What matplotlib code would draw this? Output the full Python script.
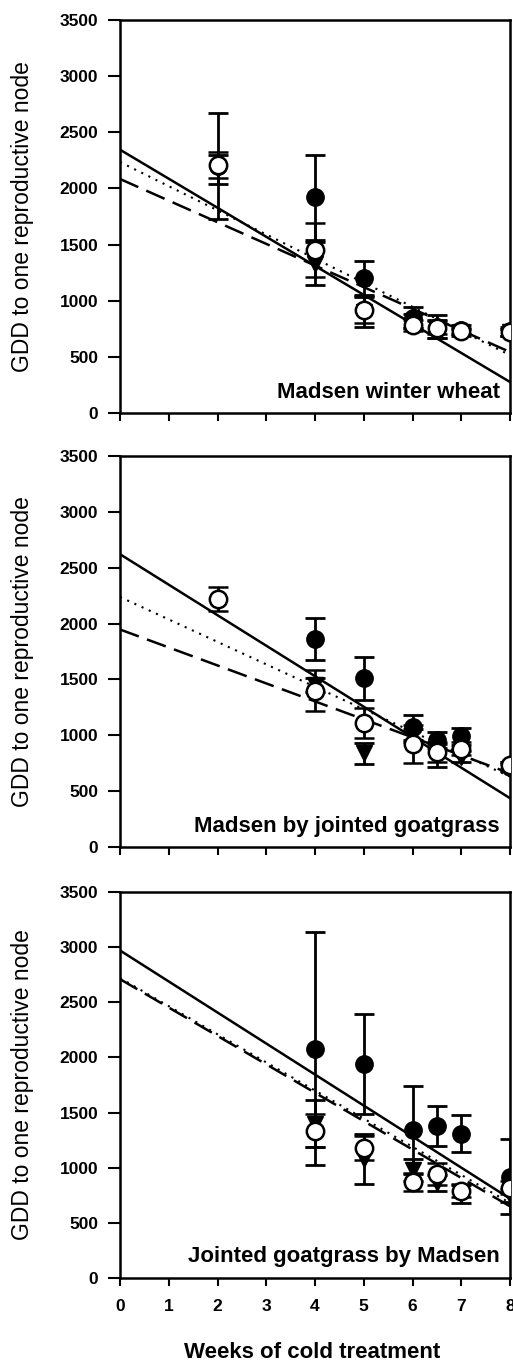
import numpy as np
import matplotlib
matplotlib.use("Agg")
import matplotlib.pyplot as plt

plt.rcParams['font.family'] = ['Liberation Sans', 'DejaVu Sans']

# Weeks of cold treatment at which plants were sampled
weeks = [2, 4, 5, 6, 6.5, 7, 8]
nan = np.nan

# Panel 1: Madsen winter wheat
p1_filled = [2200, 1920, 1200, 850, 770, 740, 730]
p1_filled_err = [470, 380, 150, 90, 100, 40, 40]
p1_open = [2210, 1450, 920, 780, 760, 730, 720]
p1_open_err = [115, 240, 120, 50, 60, 30, 30]
p1_tri = [2170, 1330, 900, 820, 750, 720, 720]
p1_tri_err = [130, 190, 130, 60, 80, 30, 30]

# Panel 2: Madsen by jointed goatgrass
p2_filled = [nan, 1860, 1510, 1070, 960, 990, 720]
p2_filled_err = [nan, 190, 190, 115, 70, 75, 40]
p2_open = [2220, 1400, 1110, 920, 850, 880, 730]
p2_open_err = [105, 180, 135, 170, 90, 60, 30]
p2_tri = [nan, 1450, 840, 1000, 820, 810, 710]
p2_tri_err = [nan, 60, 95, 60, 100, 50, 30]

# Panel 3: Jointed goatgrass by Madsen
p3_filled = [nan, 2080, 1940, 1340, 1380, 1310, 920]
p3_filled_err = [nan, 1055, 450, 400, 180, 165, 340]
p3_open = [nan, 1335, 1180, 870, 940, 790, 820]
p3_open_err = [nan, 150, 108, 80, 100, 60, 60]
p3_tri = [nan, 1400, 1080, 980, 860, 760, 750]
p3_tri_err = [nan, 215, 230, 100, 70, 80, 60]

# Regression lines: intercept at week 0 and slope per week
# order: solid (filled circles), dotted (open circles), dashed (triangles)
p1_intercepts = [2345, 2235, 2084]
p1_slopes = [-258.6, -214.9, -192.6]
p2_intercepts = [2621, 2238, 1947]
p2_slopes = [-273.0, -201.0, -160.9]
p3_intercepts = [2970, 2720, 2710]
p3_slopes = [-281.3, -255.0, -257.5]

panel_titles = ["Madsen winter wheat",
                "Madsen by jointed goatgrass",
                "Jointed goatgrass by Madsen"]
y_ticks = [0, 500, 1000, 1500, 2000, 2500, 3000, 3500]
x_ticks = [0, 1, 2, 3, 4, 5, 6, 7, 8]

panels = [
    (p1_filled, p1_filled_err, p1_open, p1_open_err, p1_tri, p1_tri_err,
     p1_intercepts, p1_slopes),
    (p2_filled, p2_filled_err, p2_open, p2_open_err, p2_tri, p2_tri_err,
     p2_intercepts, p2_slopes),
    (p3_filled, p3_filled_err, p3_open, p3_open_err, p3_tri, p3_tri_err,
     p3_intercepts, p3_slopes),
]

W, H = 513, 1365
fig = plt.figure(figsize=(W / 100, H / 100), dpi=100)

# axes boxes in pixels: (left, top, right, bottom)
boxes = [(120, 20, 510, 413), (120, 456, 510, 847), (120, 892, 510, 1278)]
title_y = [0.038, 0.039, 0.042]

line_styles = [
    dict(linestyle='-', linewidth=1.8),
    dict(linestyle=(0, (1, 2.8)), linewidth=1.5),
    dict(linestyle=(0, (8, 3.5)), linewidth=1.8),
]

eb_kw = dict(ecolor='black', elinewidth=2.0, capsize=7.5, capthick=2.0,
             linestyle='none', clip_on=True)

xfit = np.array([0.0, 8.0])

for i, (box, data) in enumerate(zip(boxes, panels)):
    l, t, r, b = box
    ax = fig.add_axes([l / W, 1 - b / H, (r - l) / W, (b - t) / H])
    (yf, ef, yo, eo, yt, et, icpts, slopes) = data

    for icpt, slope, ls in zip(icpts, slopes, line_styles):
        ax.plot(xfit, icpt + slope * xfit, color='black', zorder=2, **ls)

    ax.errorbar(weeks, yf, yerr=ef, marker='o', markersize=12.5,
                markerfacecolor='black', markeredgecolor='black',
                zorder=3, **eb_kw)
    ax.errorbar(weeks, yt, yerr=et, marker='v', markersize=12,
                markerfacecolor='black', markeredgecolor='black',
                zorder=4, **eb_kw)
    ax.errorbar(weeks, yo, yerr=eo, marker='o', markersize=12.5,
                markerfacecolor='white', markeredgecolor='black',
                markeredgewidth=1.8, zorder=5, **eb_kw)

    ax.set_xlim(0, 8)
    ax.set_ylim(0, 3500)
    ax.set_yticks(y_ticks)
    ax.set_xticks(x_ticks)
    for s in ax.spines.values():
        s.set_linewidth(1.8)
    ax.tick_params(axis='y', direction='out', length=8.5, width=1.5,
                   pad=7, labelsize=12.5)
    ax.tick_params(axis='x', direction='out', length=6, width=1.5,
                   pad=9, labelsize=12.5)
    for lab in ax.get_yticklabels() + ax.get_xticklabels():
        lab.set_fontweight('bold')

    ax.set_ylabel("GDD to one reproductive node", fontsize=16.5,
                  va='center')
    ax.yaxis.set_label_coords(-0.251, 0.5)

    ax.text(0.974, title_y[i], panel_titles[i], transform=ax.transAxes,
            ha='right', va='baseline', fontsize=16, fontweight='bold')

    if i < 2:
        ax.set_xticklabels([])
    else:
        ax.set_xlabel("Weeks of cold treatment", fontsize=16,
                      fontweight='bold', va='center')
        ax.xaxis.set_label_coords(0.492, -0.194)

fig.savefig("out.png", dpi=100)
